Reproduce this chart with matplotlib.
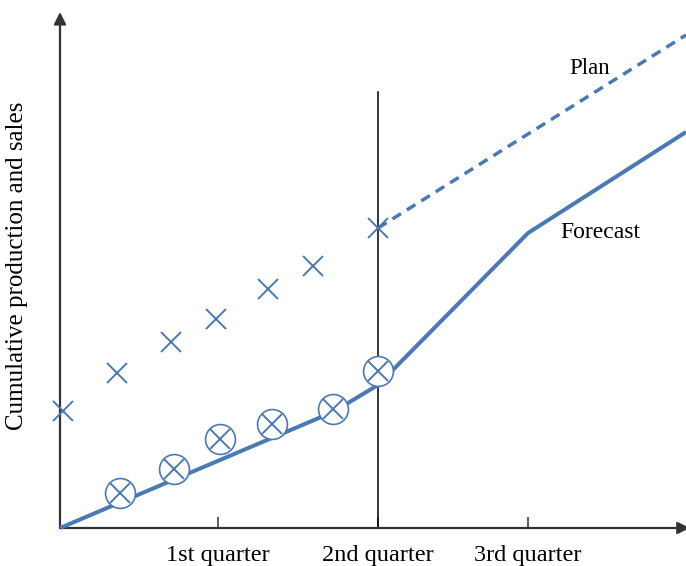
import matplotlib
matplotlib.use("Agg")
import matplotlib.pyplot as plt

plt.rcParams["font.family"] = ["Liberation Serif", "DejaVu Serif"]

BLUE = "#4a7ab5"
AXIS = "#333333"

# time axis in months, cumulative quantity in arbitrary units
quarter_pos = [2.98, 6.0, 8.83]
quarter_labels = ["1st quarter", "2nd quarter", "3rd quarter"]

plan_x = [0.06, 1.08, 2.09, 2.94, 3.92, 4.77, 6.0]
plan_y = [23.4, 31.0, 37.2, 41.8, 47.8, 52.4, 60.0]

plan_ext_x = [6.0, 11.81]
plan_ext_y = [60.0, 98.6]

actual_x = [1.13, 2.15, 3.02, 4.0, 5.15, 6.0]
actual_y = [7.0, 11.8, 17.8, 20.8, 23.8, 31.4]

trend_x = [0.0, 5.15, 6.0, 8.83, 11.81]
trend_y = [0.0, 23.2, 28.6, 59.0, 79.2]

now_x = 6.0
now_top = 87.2

X_MAX, Y_MAX = 11.81, 103.2

fig = plt.figure(figsize=(6.86, 5.66), dpi=100)
ax = fig.add_axes([60 / 686, 38 / 566, 626 / 686, 516 / 566])
ax.set_xlim(0, X_MAX)
ax.set_ylim(0, Y_MAX)
for s in ax.spines.values():
    s.set_visible(False)

# axes drawn as arrows
ax.annotate("", xy=(0, 1.0), xytext=(0, 0), xycoords="axes fraction",
            arrowprops=dict(arrowstyle="-|>", lw=1.6, color=AXIS,
                            mutation_scale=18, shrinkA=0, shrinkB=0))
ax.annotate("", xy=(1.006, 0), xytext=(0, 0), xycoords="axes fraction",
            arrowprops=dict(arrowstyle="-|>", lw=1.6, color=AXIS,
                            mutation_scale=18, shrinkA=0, shrinkB=0),
            annotation_clip=False)

# current-time marker
ax.plot([now_x, now_x], [0, now_top], color="black", lw=1.1, zorder=2)

# trend (actual + forecast)
ax.plot(trend_x, trend_y, color=BLUE, lw=2.9, solid_capstyle="butt",
        clip_on=False, zorder=3)

# plan extension
ax.plot(plan_ext_x, plan_ext_y, color=BLUE, lw=2.5, dashes=(2.9, 2.0),
        zorder=3)

# planned cumulative values
ax.plot(plan_x, plan_y, ls="none", marker="x", ms=14, mew=1.4,
        color=BLUE, clip_on=False, zorder=4)

# actual cumulative values
ax.plot(actual_x, actual_y, ls="none", marker="o", ms=21.5, mew=1.2,
        mfc="white", mec=BLUE, zorder=4)
ax.plot(actual_x, actual_y, ls="none", marker="x", ms=14, mew=1.4,
        color=BLUE, zorder=5)

ax.text(10.0, 92.0, "Plan", fontsize=16.5, ha="center", va="center")
ax.text(10.2, 59.2, "Forecast", fontsize=17, ha="center", va="center")

ax.set_xticks(quarter_pos)
ax.set_xticklabels(quarter_labels, fontsize=17.5)
ax.tick_params(axis="x", direction="in", length=8, width=1.1,
               color=AXIS, pad=12)
ax.set_yticks([])

fig.text(17 / 686, 1 - 266 / 566, "Cumulative production and sales",
         rotation=90, fontsize=18, ha="center", va="center")

fig.savefig("out.png", dpi=100)
